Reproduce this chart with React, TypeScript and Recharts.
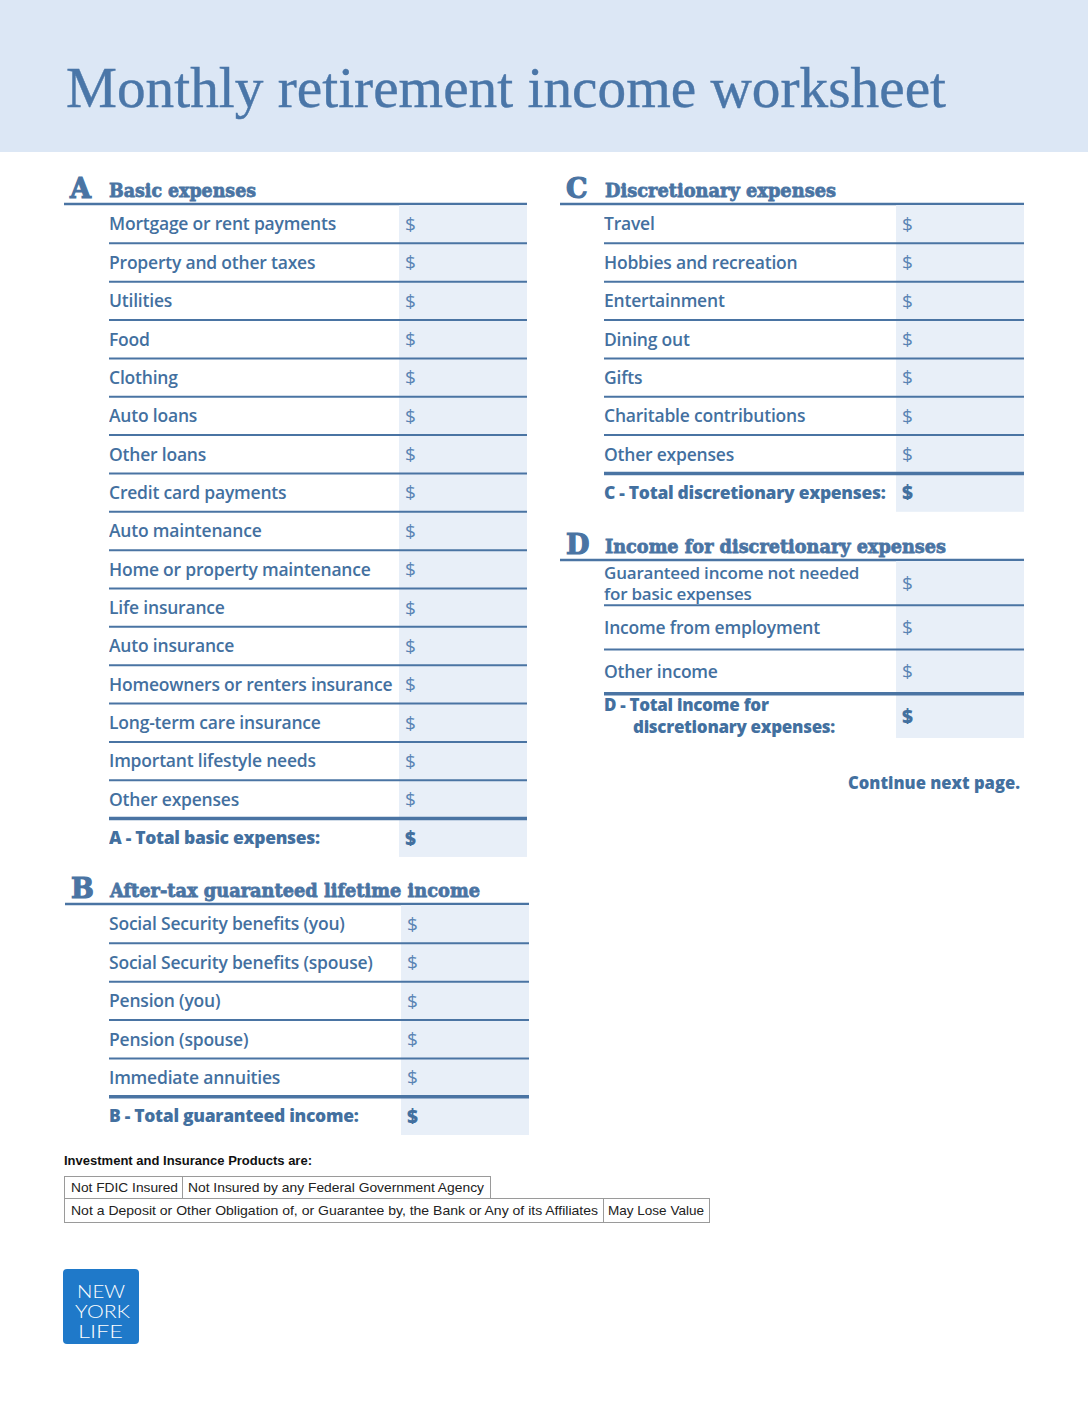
import React from 'react';
import { BarChart, Bar, XAxis, YAxis } from 'recharts';

const pageTitle = 'Monthly retirement income worksheet';

const basicExpenses = [
  'Mortgage or rent payments',
  'Property and other taxes',
  'Utilities',
  'Food',
  'Clothing',
  'Auto loans',
  'Other loans',
  'Credit card payments',
  'Auto maintenance',
  'Home or property maintenance',
  'Life insurance',
  'Auto insurance',
  'Homeowners or renters insurance',
  'Long-term care insurance',
  'Important lifestyle needs',
  'Other expenses',
  'A - Total basic expenses:',
];
// blank worksheet: every amount is still to be filled in
const basicAmounts = [0, 0, 0, 0, 0, 0, 0, 0, 0, 0, 0, 0, 0, 0, 0, 0, 0];

const guaranteedIncome = [
  'Social Security benefits (you)',
  'Social Security benefits (spouse)',
  'Pension (you)',
  'Pension (spouse)',
  'Immediate annuities',
  'B - Total guaranteed income:',
];
const guaranteedAmounts = [0, 0, 0, 0, 0, 0];

const discretionaryExpenses = [
  'Travel',
  'Hobbies and recreation',
  'Entertainment',
  'Dining out',
  'Gifts',
  'Charitable contributions',
  'Other expenses',
  'C - Total discretionary expenses:',
];
const discretionaryAmounts = [0, 0, 0, 0, 0, 0, 0, 0];

const discretionaryIncome = [
  'Guaranteed income not needed\nfor basic expenses',
  'Income from employment',
  'Other income',
  'D - Total income for\ndiscretionary expenses:',
];
const discretionaryIncomeAmounts = [0, 0, 0, 0];

const sectionLetters = ['A', 'B', 'C', 'D'];
const sectionTitles = [
  'Basic expenses',
  'After-tax guaranteed lifetime income',
  'Discretionary expenses',
  'Income for discretionary expenses',
];

const disclosureHeading = 'Investment and Insurance Products are:';
const disclosureRow1 = ['Not FDIC Insured', 'Not Insured by any Federal Government Agency'];
const disclosureRow2 = [
  'Not a Deposit or Other Obligation of, or Guarantee by, the Bank or Any of its Affiliates',
  'May Lose Value',
];
const continueNote = 'Continue next page.';
const logoLines = ['NEW', 'YORK', 'LIFE'];

const BLUE = '#43709f';
const LINE = '#4a74a3';
const CELL = '#e8eff8';
const BAND = '#dce7f5';
const LABEL_FONT = '"Open Sans", sans-serif';

type SectionProps = {
  rows: string[];
  amounts: number[];
  left: number;
  top: number;
  cellX: number;
  right: number;
  rowH: number;
};

function Section({ rows, amounts, left, top, cellX, right, rowH }: SectionProps) {
  const n = rows.length;
  const width = right - left;
  const height = n * rowH;
  const axisW = cellX - left;
  const data = rows.map((item, i) => ({ item, amount: amounts[i] }));

  const renderRow = (p: any) => {
    const idx = p.index;
    const isTotal = idx === n - 1;
    const lines = String(p.payload.value).split('\n');
    const multi = lines.length > 1;
    const lh = 21.5;
    const cy = Number(p.y);
    const top = cy - rowH / 2;
    const y0 = cy - ((lines.length - 1) * lh) / 2;
    return (
      <g>
        <rect x={axisW} y={top} width={width - axisW} height={rowH} fill={CELL} />
        {idx > 0 && (
          <line
            x1={0}
            x2={width}
            y1={top}
            y2={top}
            stroke={LINE}
            strokeWidth={isTotal ? 3.5 : 2}
          />
        )}
        <text
          fill={BLUE}
          fontFamily={LABEL_FONT}
          fontSize={multi ? 17 : 17.5}
          fontWeight={isTotal ? 800 : 600}
          letterSpacing={isTotal ? -0.3 : -0.2}
        >
          {lines.map((l, i) => (
            <tspan key={i} x={i > 0 && isTotal ? 29 : 0} y={y0 + i * lh} dy="0.36em">
              {l}
            </tspan>
          ))}
        </text>
        <text
          x={axisW + 6}
          y={cy}
          dy="0.36em"
          fill={isTotal ? BLUE : '#5a84b4'}
          fontFamily={LABEL_FONT}
          fontSize={19}
          fontWeight={isTotal ? 800 : 500}
        >
          $
        </text>
      </g>
    );
  };

  return (
    <div style={{ position: 'absolute', left, top, width, height }}>
      <BarChart
        layout="vertical"
        width={width}
        height={height}
        data={data}
        margin={{ top: 0, right: 0, bottom: 0, left: 0 }}
        barCategoryGap={0}
        barGap={0}
      >
        <XAxis type="number" hide domain={[0, 1]} />
        <YAxis
          type="category"
          dataKey="item"
          width={axisW}
          axisLine={false}
          tickLine={false}
          interval={0}
          tick={renderRow}
        />
        <Bar dataKey="amount" fill={BLUE} isAnimationActive={false} />
      </BarChart>
    </div>
  );
}

function Heading({ letter, title, x, y, lineY, lineRight, titleW }: any) {
  return (
    <g>
      <text
        x={x}
        y={y}
        fill={LINE}
        stroke={LINE}
        strokeWidth={1.2}
        fontFamily='"DejaVu Serif", serif'
        fontWeight={700}
        fontSize={27}
      >
        {letter}
      </text>
      <text
        x={x + 39}
        y={y - 1}
        fill={LINE}
        fontFamily='"DejaVu Serif", serif'
        fontWeight={700}
        fontSize={19}
        stroke={LINE}
        strokeWidth={0.8}
        textLength={titleW}
        lengthAdjust="spacingAndGlyphs"
      >
        {title}
      </text>
      <line x1={x - 6} x2={lineRight} y1={lineY} y2={lineY} stroke={LINE} strokeWidth={2.5} />
    </g>
  );
}

export default function App() {
  return (
    <div style={{ position: 'relative', width: 1088, height: 1408, background: '#fff', overflow: 'hidden' }}>
      <style>{'body{margin:0;}'}</style>
      <svg width={1088} height={1408} style={{ position: 'absolute', left: 0, top: 0 }}>
        <rect x={0} y={0} width={1088} height={152} fill={BAND} />
        <text
          x={66}
          y={107}
          fill="#4a76a8"
          stroke="#4a76a8"
          strokeWidth={0.4}
          fontFamily='"Liberation Serif", serif'
          fontSize={57}
          textLength={880}
          lengthAdjust="spacingAndGlyphs"
        >
          {pageTitle}
        </text>

        <Heading letter={sectionLetters[0]} title={sectionTitles[0]} x={70} y={198} lineY={204} lineRight={527} titleW={147} />
        <Heading letter={sectionLetters[1]} title={sectionTitles[1]} x={71} y={898} lineY={904} lineRight={529} titleW={370} />
        <Heading letter={sectionLetters[2]} title={sectionTitles[2]} x={566} y={198} lineY={204} lineRight={1024} titleW={231} />
        <Heading letter={sectionLetters[3]} title={sectionTitles[3]} x={566} y={554} lineY={560} lineRight={1024} titleW={341} />

        <text
          x={1020}
          y={789}
          textAnchor="end"
          fill={BLUE}
          fontFamily={LABEL_FONT}
          fontWeight={800}
          fontSize={17}
          textLength={172}
          lengthAdjust="spacingAndGlyphs"
        >
          {continueNote}
        </text>

        <text
          x={64}
          y={1165}
          fill="#111"
          fontFamily='"Liberation Sans", sans-serif'
          fontWeight={700}
          fontSize={12}
          textLength={248}
          lengthAdjust="spacingAndGlyphs"
        >
          {disclosureHeading}
        </text>
        <g fill="none" stroke="#9a9a9a" strokeWidth={1}>
          <rect x={64.5} y={1176.5} width={426} height={22} />
          <line x1={182.5} x2={182.5} y1={1176.5} y2={1198.5} />
          <rect x={64.5} y={1198.5} width={645} height={24} />
          <line x1={603.5} x2={603.5} y1={1198.5} y2={1222.5} />
        </g>
        <g fill="#222" fontFamily='"Liberation Sans", sans-serif' fontSize={13}>
          <text x={71} y={1192} textLength={107} lengthAdjust="spacingAndGlyphs">{disclosureRow1[0]}</text>
          <text x={188} y={1192} textLength={296} lengthAdjust="spacingAndGlyphs">{disclosureRow1[1]}</text>
          <text x={71} y={1215} textLength={527} lengthAdjust="spacingAndGlyphs">{disclosureRow2[0]}</text>
          <text x={608} y={1215} textLength={96} lengthAdjust="spacingAndGlyphs">{disclosureRow2[1]}</text>
        </g>

        <rect x={63} y={1269} width={76} height={75} rx={4} fill="#1f79c9" />
        <g fill="#fff" fontFamily='Lato, sans-serif' fontWeight={300} fontSize={18}>
          <text x={77} y={1298} textLength={48} lengthAdjust="spacingAndGlyphs">{logoLines[0]}</text>
          <text x={75} y={1318} textLength={55} lengthAdjust="spacingAndGlyphs">{logoLines[1]}</text>
          <text x={78} y={1338} textLength={45} lengthAdjust="spacingAndGlyphs">{logoLines[2]}</text>
        </g>
      </svg>

      <Section rows={basicExpenses} amounts={basicAmounts} left={109} top={205} cellX={399} right={527} rowH={38.35} />
      <Section rows={guaranteedIncome} amounts={guaranteedAmounts} left={109} top={905} cellX={401} right={529} rowH={38.35} />
      <Section rows={discretionaryExpenses} amounts={discretionaryAmounts} left={604} top={205} cellX={896} right={1024} rowH={38.35} />
      <Section rows={discretionaryIncome} amounts={discretionaryIncomeAmounts} left={604} top={561} cellX={896} right={1024} rowH={44.25} />
    </div>
  );
}
